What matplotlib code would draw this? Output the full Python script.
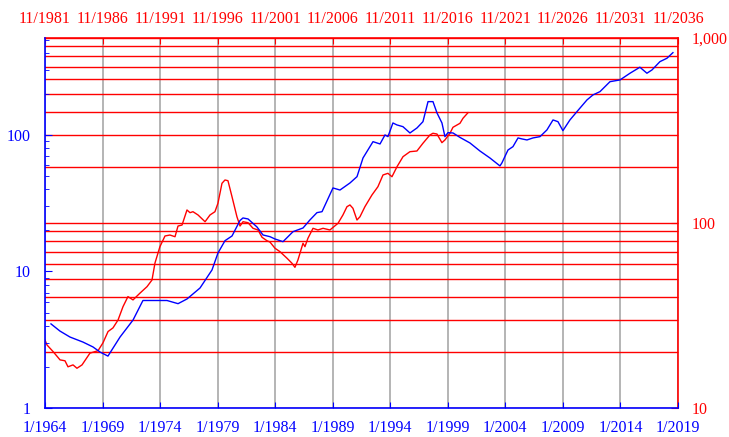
import matplotlib
matplotlib.use("Agg")
import matplotlib.pyplot as plt
import numpy as np
from matplotlib.ticker import FixedLocator, FixedFormatter, NullFormatter

plt.rcParams["font.family"] = ["Liberation Serif", "DejaVu Serif"]
plt.rcParams["font.size"] = 11.5

BLUE = "#0000ff"
RED = "#ff0000"
GRAY = "#a8a8a8"

# blue series: bottom axis (decimal year) / left log axis
blue_year = [
    1964.52, 1965.30, 1966.17, 1967.30, 1968.17, 1968.78, 1969.47, 1970.52,
    1971.65, 1972.51, 1974.60, 1975.56, 1976.34, 1977.47, 1978.51, 1979.03,
    1979.64, 1980.25, 1980.94, 1981.20, 1981.64, 1982.42, 1982.94, 1983.55,
    1983.98, 1984.68, 1985.55, 1986.42, 1987.02, 1987.63, 1988.07, 1989.02,
    1989.63, 1990.50, 1991.11, 1991.63, 1992.50, 1993.11, 1993.54, 1993.80,
    1994.23, 1994.58, 1995.10, 1995.71, 1996.32, 1996.84, 1997.28, 1997.71,
    1998.06, 1998.49, 1998.75, 1999.01, 1999.45, 2000.06, 2000.92, 2001.79,
    2002.66, 2003.53, 2003.70, 2004.23, 2004.66, 2005.10, 2005.44, 2005.88,
    2006.40, 2007.01, 2007.61, 2008.14, 2008.57, 2009.00, 2009.61, 2010.22,
    2011.09, 2011.61, 2012.22, 2013.09, 2013.96, 2014.83, 2015.69, 2016.30,
    2016.74, 2017.43, 2018.04, 2018.56,
]
blue_value = [
    4.13, 3.66, 3.31, 3.04, 2.80, 2.57, 2.40, 3.31,
    4.41, 6.13, 6.13, 5.81, 6.29, 7.57, 10.26, 13.66,
    16.81, 18.20, 23.6, 24.66, 24.25, 21.18, 18.51, 17.98,
    17.30, 16.53, 19.57, 20.83, 23.85, 26.97, 27.42, 40.9,
    39.5, 44.5, 49.5, 67.8, 89.3, 85.9, 100.0, 97.2,
    122.4, 118.4, 115.0, 103.4, 112.5, 125.1, 175.4, 175.4,
    144.9, 122.4, 97.2, 103.9, 103.4, 95.9, 87.4, 76.3,
    67.8, 59.3, 62.4, 77.6, 82.1, 95.1, 93.5, 91.9,
    95.1, 97.2, 108.8, 128.8, 125.1, 107.5, 128.8, 148.2,
    180.5, 196.4, 207.6, 245.6, 252.9, 283.2, 313.3, 283.2,
    299.4, 344.3, 364.6, 400.8,
]

# red series: top axis (decimal year) / right log axis
red_year = [
    1981.83, 1982.01, 1982.53, 1983.14, 1983.57, 1983.83, 1984.27, 1984.61,
    1985.05, 1985.74, 1986.44, 1986.87, 1987.31, 1987.74, 1988.18, 1988.61,
    1989.04, 1989.48, 1990.09, 1990.70, 1991.13, 1991.39, 1991.82, 1992.26,
    1992.69, 1993.13, 1993.39, 1993.74, 1994.17, 1994.43, 1994.69, 1995.13,
    1995.74, 1996.17, 1996.60, 1996.86, 1997.21, 1997.47, 1997.73, 1998.08,
    1998.51, 1998.78, 1999.04, 1999.47, 1999.91, 2000.34, 2000.69, 2001.12,
    2001.38, 2001.82, 2002.25, 2002.86, 2003.29, 2003.55, 2003.81, 2004.25,
    2004.42, 2004.68, 2005.12, 2005.55, 2005.99, 2006.59, 2007.29, 2007.72,
    2008.07, 2008.33, 2008.59, 2008.94, 2009.20, 2009.63, 2010.24, 2010.76,
    2011.20, 2011.63, 2011.98, 2012.42, 2012.94, 2013.54, 2014.15, 2014.67,
    2015.28, 2015.54, 2015.89, 2016.32, 2016.58, 2017.02, 2017.28, 2017.89,
    2018.15, 2018.59,
]
red_value = [
    23.3, 21.9, 20.2, 18.2, 18.0, 16.7, 17.1, 16.4,
    17.1, 19.8, 20.4, 22.5, 25.9, 27.1, 29.9, 35.3,
    40.0, 38.4, 41.8, 45.3, 49.2, 60.8, 74.5, 85.1,
    86.1, 84.3, 96.3, 97.5, 117.6, 113.7, 115.1, 110.5,
    101.6, 110.5, 115.1, 127.8, 163.9, 170.8, 169.3, 138.8,
    108.1, 96.3, 101.6, 100.4, 93.6, 91.7, 83.7, 80.2,
    78.9, 73.0, 70.0, 64.5, 60.6, 57.6, 63.1, 77.7,
    74.5, 82.7, 93.6, 91.7, 93.6, 91.7, 99.6, 110.5,
    122.5, 125.2, 120.1, 103.8, 108.1, 122.5, 141.7, 157.1,
    181.8, 185.6, 177.9, 201.6, 228.3, 242.9, 245.0, 269.7,
    299.1, 305.5, 302.7, 271.8, 281.0, 305.5, 329.1, 345.9,
    368.1, 394.9,
]

bottom_ticks = list(range(1964, 2020, 5))
bottom_labels = [f"1/{y}" for y in bottom_ticks]
top_start = 1981 + 10 / 12
top_ticks = [top_start + 5 * i for i in range(12)]
top_labels = [f"11/{1981 + 5 * i}" for i in range(12)]
left_ticks = [1, 10, 100]
left_labels = ["1", "10", "100"]
right_ticks = [10, 100, 1000]
right_labels = ["10", "100", "1,000"]

fig = plt.figure(figsize=(7.29, 4.37), dpi=100)
rect = [45 / 729, 29 / 437, 633 / 729, 370 / 437]

# red axes underneath: carries both grids
ax_r = fig.add_axes(rect)
ax_r.set_yscale("log")
ax_r.set_xlim(top_start, top_start + 55)
ax_r.set_ylim(10, 1000)
ax_r.xaxis.tick_top()
ax_r.yaxis.tick_right()
ax_r.xaxis.set_major_locator(FixedLocator(top_ticks))
ax_r.xaxis.set_major_formatter(FixedFormatter(top_labels))
ax_r.yaxis.set_major_locator(FixedLocator(right_ticks))
ax_r.yaxis.set_major_formatter(FixedFormatter(right_labels))
minor_r = [m * d for d in (10, 100) for m in range(2, 10)]
ax_r.yaxis.set_minor_locator(FixedLocator(minor_r))
ax_r.yaxis.set_minor_formatter(NullFormatter())
ax_r.grid(True, axis="x", color=GRAY, linewidth=1.2)
ax_r.grid(True, axis="y", which="both", color=RED, linewidth=1.0)
ax_r.tick_params(axis="x", direction="in", colors=RED, labelcolor=RED, length=4, pad=8)
ax_r.tick_params(axis="y", which="both", direction="in", colors=RED, labelcolor=RED, pad=10)
ax_r.tick_params(axis="y", which="major", length=5)
ax_r.tick_params(axis="y", which="minor", length=3)
for side in ("left", "bottom"):
    ax_r.spines[side].set_visible(False)
for side in ("top", "right"):
    ax_r.spines[side].set_color(RED)
    ax_r.spines[side].set_linewidth(1.2)
ax_r.plot(red_year, red_value, color=RED, linewidth=1.0)

# blue axes on top
ax_b = fig.add_axes(rect)
ax_b.patch.set_alpha(0)
ax_b.set_yscale("log")
ax_b.set_xlim(1964, 2019)
ax_b.set_ylim(1, 513)
ax_b.xaxis.set_major_locator(FixedLocator(bottom_ticks))
ax_b.xaxis.set_major_formatter(FixedFormatter(bottom_labels))
ax_b.yaxis.set_major_locator(FixedLocator(left_ticks))
ax_b.yaxis.set_major_formatter(FixedFormatter(left_labels))
minor_b = [m * d for d in (1, 10, 100) for m in range(2, 10) if m * d < 513]
ax_b.yaxis.set_minor_locator(FixedLocator(minor_b))
ax_b.yaxis.set_minor_formatter(NullFormatter())
ax_b.tick_params(axis="x", direction="in", colors=BLUE, labelcolor=BLUE, length=4, pad=9)
ax_b.tick_params(axis="y", which="both", direction="in", colors=BLUE, labelcolor=BLUE, pad=10)
ax_b.tick_params(axis="y", which="major", length=5)
ax_b.tick_params(axis="y", which="minor", length=3)
for side in ("top", "right"):
    ax_b.spines[side].set_visible(False)
for side in ("left", "bottom"):
    ax_b.spines[side].set_color(BLUE)
    ax_b.spines[side].set_linewidth(1.2)
ax_b.plot(blue_year, blue_value, color=BLUE, linewidth=1.0)

fig.savefig("out.png", dpi=100)
